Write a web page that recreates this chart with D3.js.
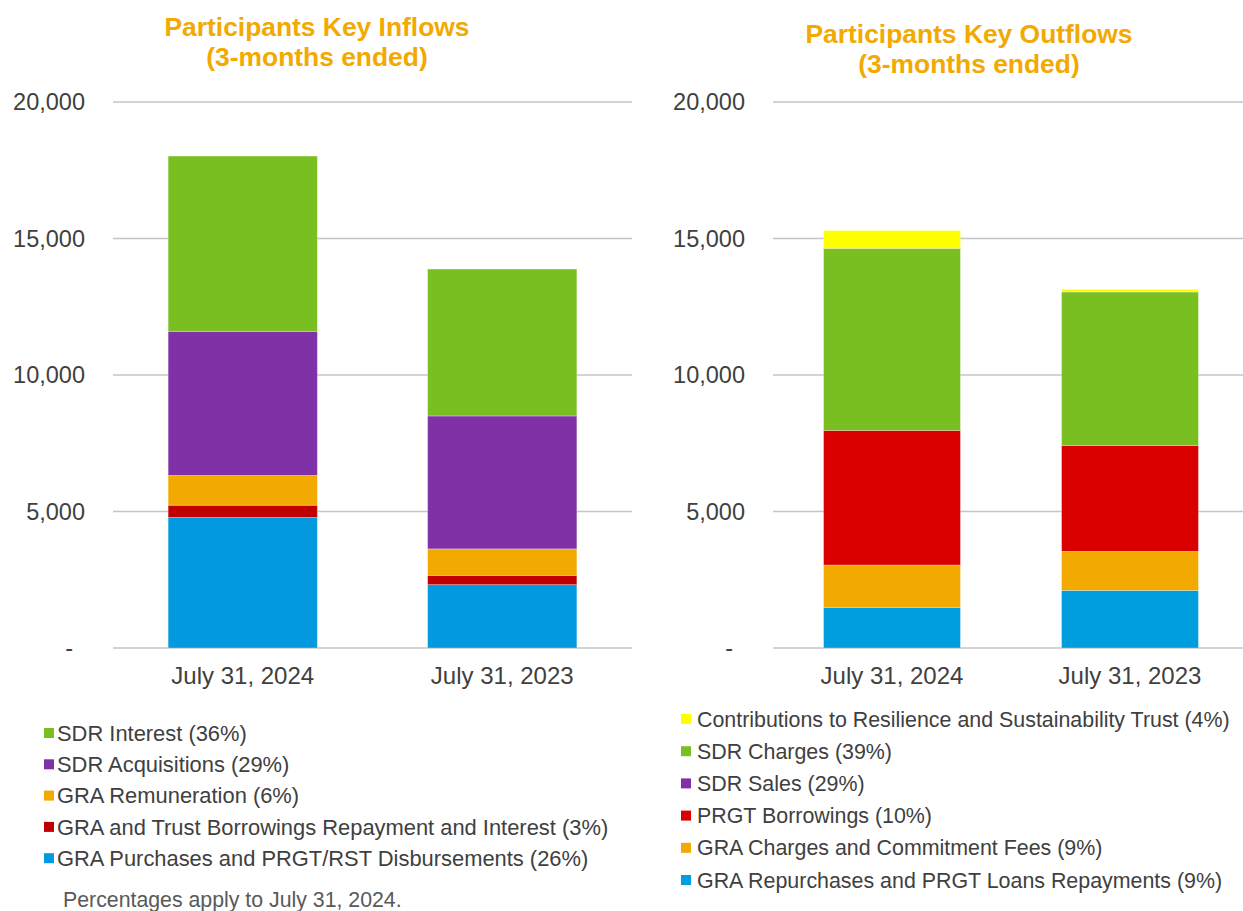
<!DOCTYPE html>
<html>
<head>
<meta charset="utf-8">
<script src="https://cdnjs.cloudflare.com/ajax/libs/d3/7.8.5/d3.min.js"></script>
<style>
  body { margin: 0; background: #ffffff; }
  svg { display: block; font-family: "Liberation Sans", Arial, sans-serif; }
</style>
</head>
<body>
<svg id="chart" width="1243" height="911"></svg>
<script>
// categories
const categories = ["July 31, 2024", "July 31, 2023"];
const yTicks = [0, 5000, 10000, 15000, 20000];

// inflows (bottom to top of the stack)
const inflowNames = [
  "GRA Purchases and PRGT/RST Disbursements (26%)",
  "GRA and Trust Borrowings Repayment and Interest (3%)",
  "GRA Remuneration (6%)",
  "SDR Acquisitions (29%)",
  "SDR Interest (36%)"
];
const inflowGRAPurchases = [4780, 2320];
const inflowBorrowingsRepayment = [450, 340];
const inflowGRARemuneration = [1090, 970];
const inflowSDRAcquisitions = [5280, 4870];
const inflowSDRInterest = [6420, 5380];

// outflows (bottom to top of the stack)
const outflowNames = [
  "GRA Repurchases and PRGT Loans Repayments (9%)",
  "GRA Charges and Commitment Fees (9%)",
  "PRGT Borrowings (10%)",
  "SDR Sales (29%)",
  "SDR Charges (39%)",
  "Contributions to Resilience and Sustainability Trust (4%)"
];
const outflowRepurchases = [1490, 2110];
const outflowGRACharges = [1550, 1430];
const outflowPRGTBorrowings = [4930, 3880];
const outflowSDRSales = [0, 0];
const outflowSDRCharges = [6670, 5620];
const outflowRSTContributions = [650, 100];

const svg = d3.select("#chart");
const fmt = d3.format(",");

const drawPanel = (opt) => {
  const g = svg.append("g");
  const keys = opt.names.map((n, i) => "s" + i);
  const rows = categories.map((c, ci) => {
    const row = {cat: c};
    opt.series.forEach((s, i) => { row["s" + i] = s[ci]; });
    return row;
  });
  const stacked = d3.stack().keys(keys)(rows);

  const x = d3.scaleBand().domain(categories).range([opt.x0, opt.x1]).paddingInner(0.425).paddingOuter(0.2125);
  const y = d3.scaleLinear().domain([0, 20000]).range([648, 102]);

  // grid
  g.append("g").selectAll("line").data(yTicks).join("line")
    .attr("x1", opt.x0).attr("x2", opt.x1)
    .attr("y1", d => y(d)).attr("y2", d => y(d))
    .attr("stroke", "#c4c4c4").attr("stroke-width", 1.6);

  // y labels
  g.append("g").selectAll("text").data(yTicks).join("text")
    .attr("x", d => d === 0 ? opt.x0 - 40 : opt.x0 - 28)
    .attr("y", d => y(d))
    .attr("dy", "0.35em")
    .attr("text-anchor", "end")
    .attr("font-size", 23.5)
    .attr("fill", "#404040")
    .text(d => d === 0 ? "-" : fmt(d));

  // bars
  g.append("g").selectAll("g").data(stacked).join("g")
    .attr("fill", (d, i) => opt.colors[i])
    .selectAll("rect").data(d => d).join("rect")
      .attr("x", d => x(d.data.cat))
      .attr("width", x.bandwidth())
      .attr("y", d => y(d[1]))
      .attr("height", d => y(d[0]) - y(d[1]))
      .attr("stroke", "#ffffff").attr("stroke-opacity", 0.35).attr("stroke-width", 0.8);

  // x labels
  g.append("g").selectAll("text").data(categories).join("text")
    .attr("x", d => x(d) + x.bandwidth() / 2)
    .attr("y", 676)
    .attr("dy", "0.35em")
    .attr("text-anchor", "middle")
    .attr("font-size", 24)
    .attr("fill", "#404040")
    .text(d => d);

  // title
  g.append("g").selectAll("text").data(opt.title).join("text")
    .attr("x", opt.titleX)
    .attr("y", (d, i) => opt.titleY + i * 30)
    .attr("dy", "0.35em")
    .attr("text-anchor", "middle")
    .attr("font-size", 26.4)
    .attr("font-weight", "bold")
    .attr("fill", "#f2a900")
    .text(d => d);

  // legend (top of stack first)
  const legendItems = opt.names.map((n, i) => ({name: n, color: opt.colors[i]})).reverse();
  const lg = g.append("g").selectAll("g").data(legendItems).join("g")
    .attr("transform", (d, i) => `translate(${opt.legendX},${opt.legendY + i * opt.legendStep})`);
  lg.append("rect").attr("x", 0).attr("y", -5).attr("width", 10).attr("height", 10).attr("fill", d => d.color);
  lg.append("text").attr("x", opt.legendGap).attr("dy", "0.35em")
    .attr("font-size", opt.legendSize).attr("fill", "#404040").text(d => d.name);
};

drawPanel({
  title: ["Participants Key Inflows", "(3-months ended)"],
  titleX: 317, titleY: 27,
  x0: 113, x1: 632,
  names: inflowNames,
  series: [inflowGRAPurchases, inflowBorrowingsRepayment, inflowGRARemuneration, inflowSDRAcquisitions, inflowSDRInterest],
  colors: ["#0399df", "#c00000", "#f2a900", "#8031a7", "#7abf21"],
  legendX: 44, legendY: 733, legendStep: 31.3, legendGap: 13, legendSize: 21.9
});

drawPanel({
  title: ["Participants Key Outflows", "(3-months ended)"],
  titleX: 969, titleY: 34,
  x0: 773, x1: 1249,
  names: outflowNames,
  series: [outflowRepurchases, outflowGRACharges, outflowPRGTBorrowings, outflowSDRSales, outflowSDRCharges, outflowRSTContributions],
  colors: ["#009ddf", "#f2a900", "#da0000", "#8031a7", "#7abf21", "#ffff00"],
  legendX: 681, legendY: 719, legendStep: 32.2, legendGap: 16, legendSize: 21.4
});

// footnote
svg.append("text")
  .attr("x", 63).attr("y", 900).attr("dy", "0.35em")
  .attr("font-size", 21.3).attr("fill", "#595959")
  .text("Percentages apply to July 31, 2024.");
</script>
</body>
</html>
